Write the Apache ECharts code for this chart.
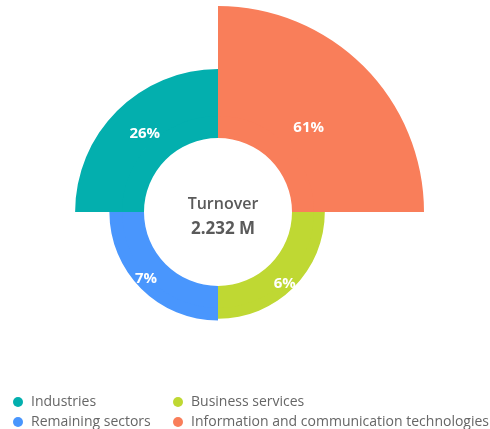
<!DOCTYPE html>
<html>
<head>
<meta charset="utf-8">
<title>Turnover</title>
<script src="https://cdn.jsdelivr.net/npm/echarts@6/dist/echarts.min.js"></script>
<style>
html,body{margin:0;padding:0;background:#fff;}
#chart{width:490px;height:429px;}
</style>
</head>
<body>
<div id="chart"></div>
<script>
// sectors clockwise from 12 o'clock
var categories = ['Information and communication technologies', 'Business services', 'Remaining sectors', 'Industries'];
var shares = [61, 6, 7, 26];
var colors = ['#f97e5a', '#bfd833', '#4996fd', '#03afae'];
var centerTitle = 'Turnover';
var centerValue = '2.232 M';

var fontName = '"Open Sans", sans-serif';

var roseData = [];
var ringData = [];
var labelData = [];
for (var i = 0; i < categories.length; i++) {
	roseData.push({name: categories[i], value: shares[i], itemStyle: {color: colors[i]}});
	// inner part of each sector, same angle for every sector
	ringData.push({name: categories[i], value: 1, itemStyle: {color: colors[i]}});
	labelData.push({name: categories[i], value: shares[i]});
}

var legendText = {fontFamily: fontName, fontSize: 14, color: '#666'};

var myChart = echarts.init(document.getElementById('chart'));
var option = {
	animation: false,
	title: {
		text: centerTitle,
		subtext: centerValue,
		left: 218,
		top: 191,
		textAlign: 'center',
		itemGap: 9,
		textStyle: {fontFamily: fontName, fontSize: 16, fontWeight: 600, color: '#5a5a5a'},
		subtextStyle: {fontFamily: fontName, fontSize: 17, fontWeight: 'bold', color: '#5a5a5a'}
	},
	legend: [
		{
			data: ['Industries', 'Remaining sectors'],
			orient: 'vertical',
			left: 13,
			top: 395,
			padding: 0,
			itemGap: 6,
			icon: 'circle',
			itemWidth: 16,
			itemHeight: 10,
			textStyle: legendText
		},
		{
			data: ['Business services', 'Information and communication technologies'],
			orient: 'vertical',
			left: 173,
			top: 395,
			padding: 0,
			itemGap: 6,
			icon: 'circle',
			itemWidth: 16,
			itemHeight: 10,
			textStyle: legendText
		}
	],
	series: [
		{
			type: 'pie',
			center: [218, 212],
			radius: [74, 97],
			startAngle: 90,
			silent: true,
			label: {show: false},
			labelLine: {show: false},
			data: ringData
		},
		{
			type: 'pie',
			roseType: 'area',
			center: [218, 212],
			radius: [96, 206],
			startAngle: 90,
			silent: true,
			label: {show: false},
			labelLine: {show: false},
			data: roseData
		},
		{
			// percentage labels only
			type: 'pie',
			roseType: 'area',
			center: [218, 212],
			radius: [92, 150],
			startAngle: 88,
			silent: true,
			avoidLabelOverlap: false,
			itemStyle: {color: 'rgba(0,0,0,0)'},
			label: {
				show: true,
				position: 'inside',
				formatter: '{c}%',
				color: '#fff',
				fontFamily: fontName,
				fontSize: 15,
				fontWeight: 'bold'
			},
			labelLine: {show: false},
			data: labelData
		}
	]
};
myChart.setOption(option);
</script>
</body>
</html>
